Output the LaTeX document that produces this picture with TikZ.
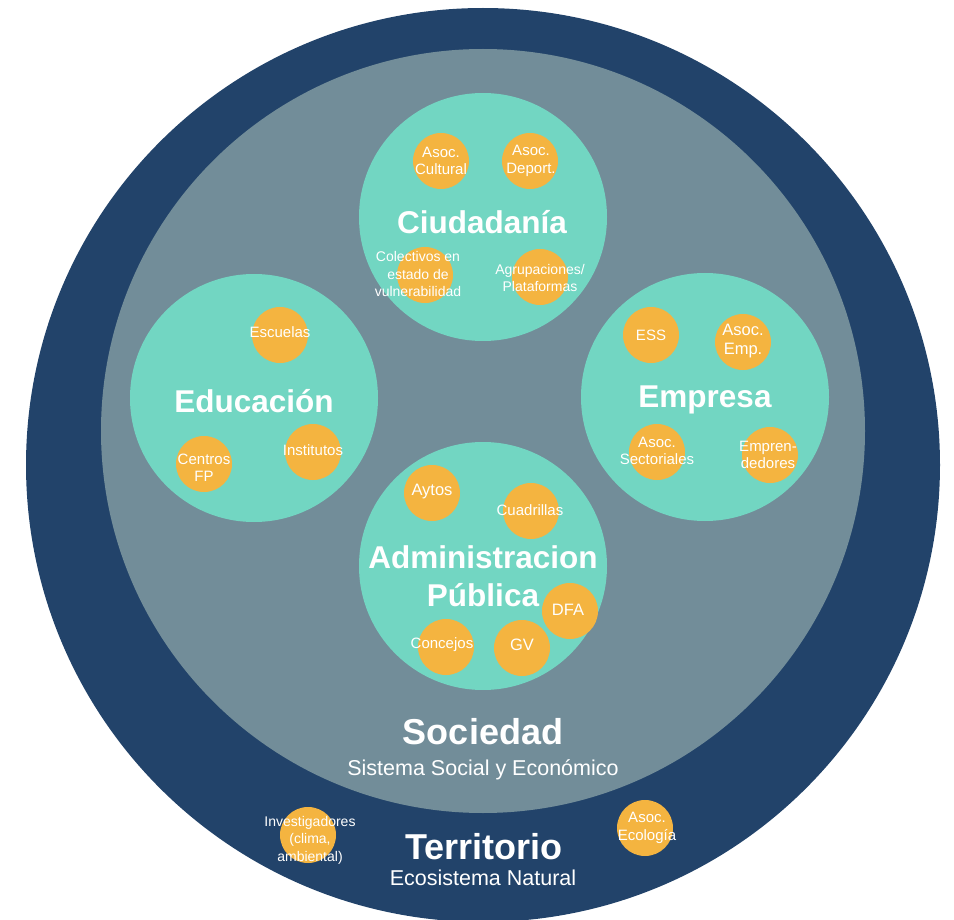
\documentclass[tikz,border=0pt]{standalone}
\usepackage{fontspec}
\setmainfont{Liberation Sans}
\usepackage{xcolor}
\usepackage{tikz}
\usetikzlibrary{positioning}
\definecolor{navy}{HTML}{22436A}
\definecolor{slate}{HTML}{728D99}
\definecolor{mint}{HTML}{72D6C2}
\definecolor{amber}{HTML}{F4B440}

\begin{document}
\begin{tikzpicture}[x=1pt, y=-1pt]
        \tikzset{ring/.style={circle, inner sep=0pt}}
        \tikzset{group/.style={circle, fill=mint, minimum size=248pt, inner sep=0pt}}
        \tikzset{org/.style={circle, fill=amber, minimum size=56pt, inner sep=0pt}}
        \tikzset{orgtext/.style={text=white, align=center, inner sep=0pt, font=\fontsize{15}{17.5}\selectfont}}
        \tikzset{orgsm/.style={orgtext, font=\fontsize{14}{17.5}\selectfont}}
        \tikzset{orglg/.style={orgtext, font=\fontsize{16.5}{19}\selectfont}}
        \tikzset{title/.style={text=white, align=center, inner sep=0pt, font=\fontsize{31.5}{38}\selectfont\bfseries}}
        \tikzset{bigtitle/.style={title, font=\fontsize{36}{40}\selectfont\bfseries}}
        \tikzset{subtitle/.style={text=white, inner sep=0pt, font=\fontsize{21.5}{24}\selectfont}}

        \useasboundingbox (0,0) rectangle (954,920);
        \clip (0,0) rectangle (954,920);

        % Territorio y Sociedad
        \node [ring, fill=navy, minimum size=914pt] (terr) at (483,465) {};
        \node [ring, fill=slate, minimum size=764pt] (soc) at (483,431) {};

        % grupos
        \node [group] (ciud) at (483,217) {};
        \node [group] (edu) at (254,398) {};
        \node [group] (emp) at (705,397) {};
        \node [group] (adm) at (483,566) {};

        % Ciudadania
        \node [org] (cult) at (441,161) {};
        \node [org] (dep) at (530,161) {};
        \node [org] (colec) at (425,275) {};
        \node [org] (agrup) at (540,277) {};
        \node [orgtext] (cult-t) at (441,161) {Asoc.\\Cultural};
        \node [orgtext] (dep-t) at (531,161) {Asoc.\\Deport.};
        \node [orgsm] (colec-t) at (418,274) {Colectivos en\\estado de\\vulnerabilidad};
        \node [orgsm] (agrup-t) at (540,278) {Agrupaciones/\\Plataformas};
        \node [title] (ciud-t) at (482,222) {Ciudadanía};

        % Educacion
        \node [org] (esc) at (280,335) {};
        \node [org] (cfp) at (204,464) {};
        \node [org] (inst) at (313,452) {};
        \node [orgtext] (esc-t) at (280,332) {Escuelas};
        \node [orgtext] (cfp-t) at (204,468) {Centros\\FP};
        \node [orgtext] (inst-t) at (313,450) {Institutos};
        \node [title] (edu-t) at (254,401) {Educación};

        % Empresa
        \node [org] (ess) at (651,335) {};
        \node [org] (aemp) at (743,342) {};
        \node [org] (asect) at (657,452) {};
        \node [org] (empr) at (770,455) {};
        \node [orgtext] (ess-t) at (651,335) {ESS};
        \node [orglg] (aemp-t) at (743,341) {Asoc.\\Emp.};
        \node [orgtext] (asect-t) at (657,451) {Asoc.\\Sectoriales};
        \node [orgtext] (empr-t) at (768,455) {Empren-\\dedores};
        \node [title] (emp-t) at (705,400) {Empresa};

        % Administracion Publica
        \node [org] (ayt) at (432,493) {};
        \node [org] (cuad) at (531,511) {};
        \node [org] (dfa) at (570,611) {};
        \node [org] (conc) at (446,647) {};
        \node [org] (gv) at (522,648) {};
        \node [orglg] (ayt-t) at (432,492) {Aytos};
        \node [orgtext] (cuad-t) at (530,510) {Cuadrillas};
        \node [orglg] (dfa-t) at (568,610) {DFA};
        \node [orgtext] (conc-t) at (442,645) {Concejos};
        \node [orglg] (gv-t) at (522,645) {GV};
        \node [title] (adm-t) at (483,576) {Administracion\\Pública};

        % Sociedad
        \node [bigtitle] (soc-t) at (483,732) {Sociedad};
        \node [subtitle] (soc-s) at (483,770) {Sistema Social y Económico};

        % Territorio
        \node [org] (inv) at (308,835) {};
        \node [org] (ecol) at (645,828) {};
        \node [orgsm] (inv-t) at (310,840) {Investigadores\\(clima,\\ambiental)};
        \node [orgtext] (ecol-t) at (647,828) {Asoc.\\Ecología};
        \node [bigtitle] (terr-t) at (484,847) {Territorio};
        \node [subtitle] (terr-s) at (483,878) {Ecosistema Natural};
    \end{tikzpicture}
\end{document}
